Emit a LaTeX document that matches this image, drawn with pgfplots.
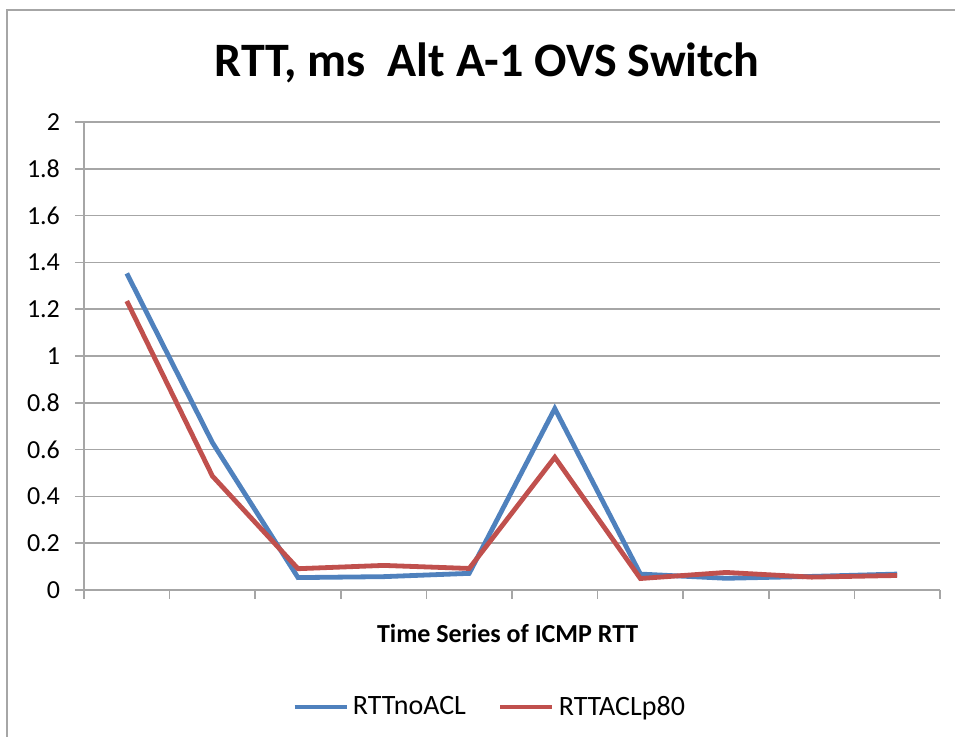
\documentclass[border=0pt]{standalone}
\usepackage{pgfplots}
\pgfplotsset{compat=1.18}
\usepackage{fontspec}
\setmainfont{Carlito}
\definecolor{xlblue}{HTML}{4F81BD}
\definecolor{xlred}{HTML}{C0504D}
\definecolor{gridgray}{HTML}{A6A6A6}
\begin{document}
\begin{tikzpicture}
\useasboundingbox (0,0) rectangle (477.5pt,368.5pt);
\draw[gridgray, line width=1.2pt] (3.5pt,0) -- (3.5pt,363.5pt) -- (477.5pt,363.5pt);
\node[font=\fontsize{24}{28}\selectfont\bfseries] at (243.5pt,337pt) {RTT, ms\ \ Alt A-1 OVS Switch};
\begin{axis}[
  at={(42pt,73.5pt)}, anchor=south west,
  scale only axis, width=428pt, height=234pt,
  xmin=-0.5, xmax=9.5, ymin=0, ymax=2,
  xtick={-0.5,0.5,...,9.5}, xticklabels={},
  ytick={0,0.2,...,2.01},
  yticklabels={0,0.2,0.4,0.6,0.8,1,1.2,1.4,1.6,1.8,2},
  tick align=outside, major tick length=4.5pt,
  tick style={gridgray, line width=0.75pt},
  axis x line*=bottom, axis y line*=left,
  axis line style={gridgray, line width=0.75pt, -},
  ymajorgrids, grid style={gridgray, line width=0.75pt},
  yticklabel style={font=\fontsize{13}{15}\selectfont, xshift=-4pt},
  /pgf/number format/assume math mode=true,
  xlabel={Time Series of ICMP RTT},
  xlabel style={font=\fontsize{13}{15}\selectfont\bfseries, at={(axis description cs:0.495,-0.092)}, anchor=center},
  legend columns=2,
  legend style={draw=none, fill=none, at={(axis description cs:0.475,-0.25)}, anchor=center, font=\fontsize{14}{16}\selectfont, /tikz/every even column/.append style={column sep=14pt}},
  legend image code/.code={\draw[#1, line width=2.4pt] (0pt,0pt) -- (26pt,0pt);},
  clip=false,
]
\addplot[xlblue, line width=2.4pt] coordinates {
(0,1.353) (1,0.63) (2,0.053) (3,0.057) (4,0.071) (5,0.775) (6,0.068) (7,0.05) (8,0.058) (9,0.068)};
\addlegendentry{RTTnoACL}
\addplot[xlred, line width=2.4pt] coordinates {
(0,1.235) (1,0.487) (2,0.091) (3,0.105) (4,0.092) (5,0.567) (6,0.049) (7,0.075) (8,0.055) (9,0.062)};
\addlegendentry{RTTACLp80}
\end{axis}
\end{tikzpicture}
\end{document}
